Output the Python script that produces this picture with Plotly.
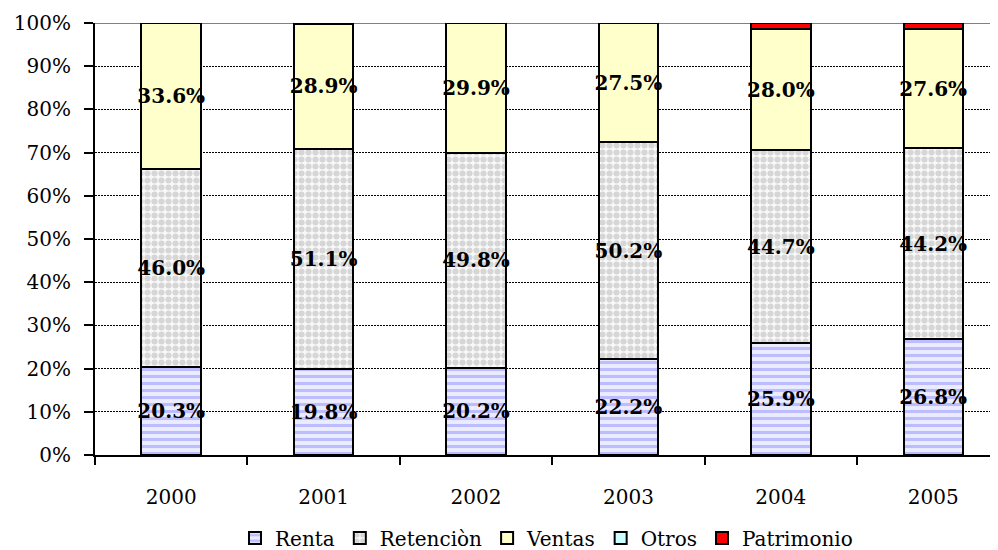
import plotly.graph_objects as go

years = ["2000", "2001", "2002", "2003", "2004", "2005"]
renta = [20.3, 19.8, 20.2, 22.2, 25.9, 26.8]
retencion = [46.0, 51.1, 49.8, 50.2, 44.7, 44.2]
ventas = [33.6, 28.9, 29.9, 27.5, 28.0, 27.6]
otros = [0, 0, 0, 0, 0, 0]
patrimonio = [0.1, 0.2, 0.1, 0.1, 1.4, 1.4]
y_ticks = list(range(0, 101, 10))
y_tick_labels = [f"{v}%" for v in y_ticks]

FONT = "DejaVu Serif"
fig = go.Figure()

def add(name, vals, color, pattern=None, labels=True):
    marker = dict(color=color, line=dict(color="black", width=2))
    if pattern:
        marker["pattern"] = pattern
    fig.add_trace(go.Bar(
        name=name, x=years, y=vals, marker=marker, width=0.39,
        text=[f"{v:.1f}%" for v in vals] if labels else None,
        textposition="inside" if labels else "none", textangle=0,
        insidetextanchor="middle", constraintext="none",
        textfont=dict(family=FONT, size=20, color="black", weight="bold"),
        hoverinfo="skip"))

add("Renta", renta, "#e4e4ff", dict(shape="-", fgcolor="#8c8cff", bgcolor="#ececff", size=7, solidity=0.45))
add("Retenciòn", retencion, "#f4f4f4", dict(shape=".", fgcolor="#b4b4b4", bgcolor="#f8f8f8", size=7, solidity=0.6))
add("Ventas", ventas, "#ffffcc")
add("Otros", otros, "#ccffff", labels=False)
add("Patrimonio", patrimonio, "#ff0000", labels=False)

fig.add_shape(type="line", xref="paper", yref="y", x0=0, x1=1, y0=100, y1=100,
              line=dict(color="#808080", width=2), layer="below")

# page body has an 8px default margin, so the figure is 8px smaller on each axis
fig.update_layout(
    barmode="stack",
    width=990, height=542,
    margin=dict(l=87, r=0, t=15, b=95, autoexpand=False),
    paper_bgcolor="white", plot_bgcolor="white",
    font=dict(family=FONT, size=20, color="black"),
    showlegend=True,
    legend=dict(orientation="h", x=0.5, xanchor="center", y=-0.192, yanchor="middle",
                font=dict(family=FONT, size=20), traceorder="normal",
                itemwidth=30, tracegroupgap=0),
    xaxis=dict(range=[-0.5, 5.425], showline=True, linecolor="black", linewidth=2,
               ticks="outside", tickson="boundaries", ticklen=8, tickwidth=2, tickcolor="black",
               showgrid=False, tickfont=dict(family=FONT, size=20),
               ticklabelstandoff=23, automargin=False),
    yaxis=dict(range=[0, 100], tickvals=y_ticks, ticktext=y_tick_labels,
               showline=True, linecolor="black", linewidth=2, ticks="outside",
               ticklen=9, tickwidth=2, tickcolor="black",
               showgrid=True, gridcolor="black", griddash="2px,1px", gridwidth=1,
               zeroline=False, tickfont=dict(family=FONT, size=20),
               ticklabelstandoff=9, automargin=False),
)

fig.write_html("out.html")
